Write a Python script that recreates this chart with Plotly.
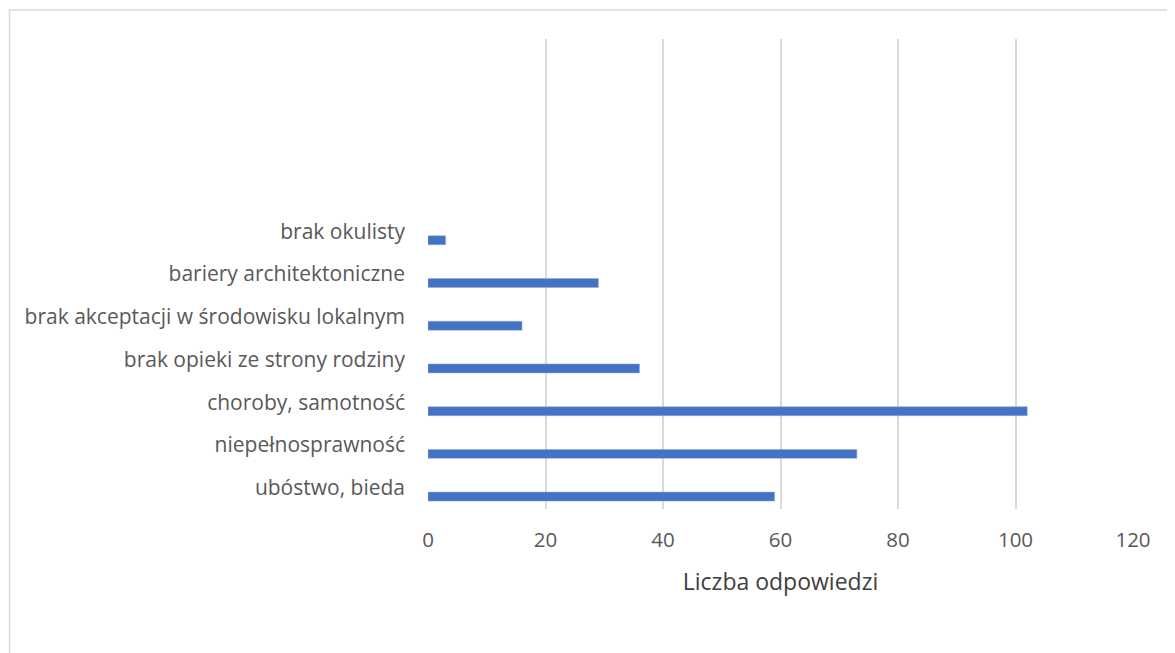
import plotly.graph_objects as go

categories = ["ubóstwo, bieda", "niepełnosprawność", "choroby, samotność",
              "brak opieki ze strony rodziny", "brak akceptacji w środowisku lokalnym",
              "bariery architektoniczne", "brak okulisty"]
values = [59, 73, 102, 36, 16, 29, 3]
x_ticks = [0, 20, 40, 60, 80, 100, 120]
axis_title = "Liczba odpowiedzi"

W, H = 1175, 653
L, R, T, B = 419.5, 49.5, 31, 152
pw, ph = W - L - R, H - T - B

positions = list(range(len(categories)))

fig = go.Figure(go.Bar(
    x=values, y=positions, orientation="h",
    marker=dict(color="#4472C4", line=dict(color="#8FAADC", width=0.5)),
    width=0.21, offset=-0.315,
))

font_family = "'Open Sans', sans-serif"
fig.update_layout(
    width=W, height=H,
    margin=dict(l=L, r=R, t=T, b=B, pad=0),
    paper_bgcolor="white", plot_bgcolor="white",
    showlegend=False,
    font=dict(family=font_family, color="#595959", size=18),
    xaxis=dict(range=[0, 120], tickvals=x_ticks, showgrid=True,
               gridcolor="#d9d9d9", gridwidth=1.5, zeroline=False,
               showline=False, ticks="", tickfont=dict(size=20.5, color="#595959"),
               ticklabelstandoff=16,
               title=dict(text=axis_title, font=dict(size=23, color="#404040"), standoff=22)),
    yaxis=dict(range=[-0.5, 10.5], tickvals=positions, ticktext=categories,
               showgrid=False, zeroline=False, showline=False, ticks="",
               ticklabelstandoff=22, tickfont=dict(size=21, color="#595959")),
    shapes=[dict(type="rect", xref="paper", yref="paper",
                 x0=(0.5 - L) / pw, x1=(W + 10 - L) / pw,
                 y0=(T + ph - (H + 10)) / ph, y1=(T + ph - 2) / ph,
                 line=dict(color="#d9d9d9", width=1.5), fillcolor="rgba(0,0,0,0)",
                 layer="below")],
)

fig.write_html("out.html")
